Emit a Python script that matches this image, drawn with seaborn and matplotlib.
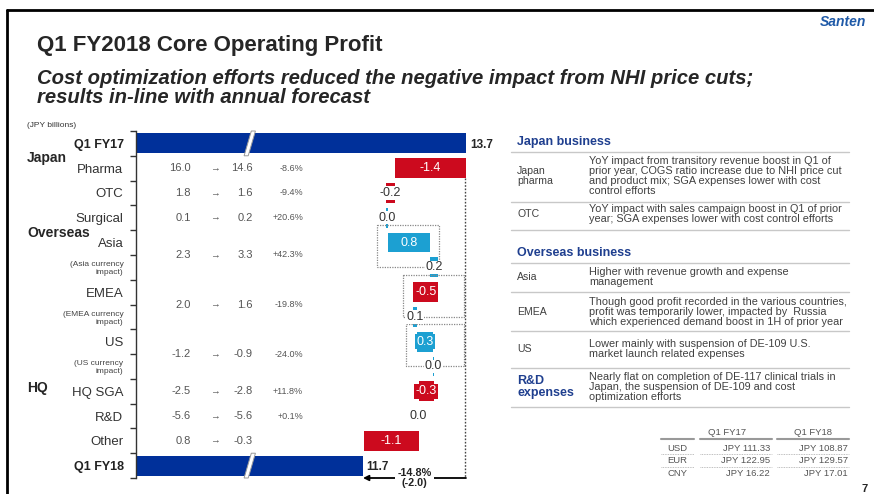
import numpy as np
import matplotlib
matplotlib.use("Agg")
import matplotlib.pyplot as plt
import seaborn as sns
from matplotlib.lines import Line2D
from matplotlib.patches import Polygon, Rectangle
from matplotlib.transforms import Affine2D, blended_transform_factory

# Data
row_labels = ["Q1 FY17", "Pharma", "OTC", "Surgical", "Asia", "(Asia currency\nimpact)",
              "EMEA", "(EMEA currency\nimpact)", "US", "(US currency\nimpact)",
              "HQ SGA", "R&D", "Other", "Q1 FY18"]
fy17_total = 13.7
fy18_total = 11.7
deltas = [-1.38, -0.18, 0.04, 0.82, 0.16, -0.48, 0.06, 0.32, 0.02, -0.30, 0.00, -1.07]
change_text = "-14.8%\n(-2.0)"

seg_rows = [1, 2, 3, 4.5, 6.5, 8.5, 10, 11, 12]
seg_fy17 = [16.0, 1.8, 0.1, 2.3, 2.0, -1.2, -2.5, -5.6, 0.8]
seg_fy18 = [14.6, 1.6, 0.2, 3.3, 1.6, -0.9, -2.8, -5.6, -0.3]
seg_pct = ["-8.6%", "-9.4%", "+20.6%", "+42.3%", "-19.8%", "-24.0%", "+11.8%", "+0.1%", ""]

groups = [("Japan", 158), ("Overseas", 233), ("HQ", 388)]
currency_boxes = [4, 6, 8]  # rows of Asia, EMEA, US (with currency row below)

japan_notes = [("Japan\npharma", "YoY impact from transitory revenue boost in Q1 of\nprior year, COGS ratio increase due to NHI price cut\nand product mix; SGA expenses lower with cost\ncontrol efforts"),
               ("OTC", "YoY impact with sales campaign boost in Q1 of prior\nyear; SGA expenses lower with cost control efforts")]
overseas_notes = [("Asia", "Higher with revenue growth and expense\nmanagement"),
                  ("EMEA", "Though good profit recorded in the various countries,\nprofit was temporarily lower, impacted by  Russia\nwhich experienced demand boost in 1H of prior year"),
                  ("US", "Lower mainly with suspension of DE-109 U.S.\nmarket launch related expenses")]
rd_note = ("R&D\nexpenses", "Nearly flat on completion of DE-117 clinical trials in\nJapan, the suspension of DE-109 and cost\noptimization efforts")

currencies = ["USD", "EUR", "CNY"]
rate_fy17 = [111.33, 122.95, 16.22]
rate_fy18 = [108.87, 129.57, 17.01]

navy = "#00309a"
red = "#cc0a1e"
cyan = "#1ca0d2"
gray = "#555555"
hblue = "#1f3f8f"

sns.set_theme(style="white")
plt.rcParams["font.family"] = ["Liberation Sans", "DejaVu Sans"]

W, H = 874, 494
fig = plt.figure(figsize=(W / 100, H / 100), dpi=100)
px = Affine2D().scale(1 / W, -1 / H).translate(0, 1) + fig.transFigure

# slide frame
fig.add_artist(Line2D([7, 7], [10, 500], transform=px, color="black", lw=2))
fig.add_artist(Line2D([7, 880], [10, 10], transform=px, color="black", lw=2))

fig.text(37, 46, "Q1 FY2018 Core Operating Profit", transform=px, fontsize=16,
         weight="bold", va="center")
fig.text(37, 88, "Cost optimization efforts reduced the negative impact from NHI price cuts;\nresults in-line with annual forecast",
         transform=px, fontsize=14.6, weight="bold", style="italic",
         va="center", linespacing=1.05)
fig.text(820, 22, "Santen", transform=px, fontsize=10, weight="bold", color="#1f5aa8",
         va="center", style="italic")
fig.text(868, 489, "7", transform=px, fontsize=8, weight="bold", ha="right", va="center")
fig.text(27, 125, "(JPY billions)", transform=px, fontsize=6, color="#333333", va="center")

# waterfall axes
ax = fig.add_axes([136 / W, 1 - 478 / H, 331 / W, 347 / H])
total_vals = [fy17_total] + [0] * len(deltas) + [fy18_total]
sns.barplot(x=total_vals, y=row_labels, color=navy, width=0.8, linewidth=0,
            orient="h", errorbar=None, ax=ax, saturation=1)

cum = fy17_total
starts = []
for i, d in enumerate(deltas):
    r = i + 1
    starts.append(cum)
    col = red if d < 0 else cyan
    ax.barh(r, d, left=cum, height=0.8, color=col, linewidth=0)
    mid = cum + d / 2
    if abs(d) >= 0.25:
        ax.text(mid, r, f"{d:.1f}", ha="center", va="center", color="white", fontsize=9,
                bbox=dict(boxstyle="square,pad=0.12", fc=col, ec="none"))
    else:
        ax.text(mid, r, f"{d:.1f}", ha="center", va="center", color="#333333", fontsize=9,
                bbox=dict(boxstyle="square,pad=0.05", fc="white", ec="none"))
    cum += d
ends = [s + d for s, d in zip(starts, deltas)]

# dotted boxes around region + currency impact
for r in currency_boxes:
    i = r - 1
    lo = min(starts[i], ends[i], starts[i + 1], ends[i + 1])
    x0 = lo - 0.2
    x1 = min(lo + 1.0, fy17_total - 0.03)
    ax.add_patch(Rectangle((x0, r - 0.7), x1 - x0, 1.7, fill=False, ec="#888888",
                           ls=(0, (1, 1)), lw=0.9, zorder=1))

ax.set_xlim(7.29, 13.72)
ax.set_ylim(13.5, -0.5)
ax.set_xticks([])
ax.set_xlabel("")
ax.set_ylabel("")
ax.set_yticks(range(len(row_labels)))
ax.set_yticklabels(row_labels)
ax.set_yticks(np.arange(-0.5, len(row_labels), 1), minor=True)
ax.tick_params(axis="y", which="major", length=0, pad=9, colors="#222222")
ax.tick_params(axis="y", which="minor", left=True, length=4, width=1, color="#333333")
for k, lbl in enumerate(ax.get_yticklabels()):
    if k in (0, len(row_labels) - 1):
        lbl.set_fontweight("bold")
        lbl.set_fontsize(9)
    elif "currency" in lbl.get_text():
        lbl.set_fontsize(6)
        lbl.set_color("#444444")
    else:
        lbl.set_fontsize(9.5)
        lbl.set_color("#333333")
sns.despine(ax=ax, top=True, right=True, bottom=True)
ax.spines["left"].set_color("#333333")
ax.spines["left"].set_linewidth(1)
ax.set_facecolor("none")

# totals labels
ax.annotate(f"{fy17_total:.1f}", (fy17_total, 0), xytext=(3, -1), textcoords="offset points",
            fontsize=8.5, weight="bold", va="center", annotation_clip=False)
ax.annotate(f"{fy18_total:.1f}", (fy18_total, 13), xytext=(2, -1), textcoords="offset points",
            fontsize=8.5, weight="bold", va="center", annotation_clip=False)

# axis break marks
for r in (0, len(row_labels) - 1):
    xb = 9.5
    ax.add_patch(Polygon([(xb - 0.11, r + 0.5), (xb - 0.03, r + 0.5), (xb + 0.11, r - 0.5),
                          (xb + 0.03, r - 0.5)], closed=True, fc="white", ec="#999999",
                         lw=0.7, clip_on=False, zorder=5))

# overall change
ax.plot([fy17_total - 0.01] * 2, [1.4, 13.5], ls=(0, (1.2, 1.2)), color="#444444", lw=1,
        clip_on=False)
ax.annotate("", xy=(fy18_total, 13.5), xytext=(fy17_total, 13.5),
            arrowprops=dict(arrowstyle="-|>", color="black", lw=1.3, mutation_scale=8,
                            shrinkA=0, shrinkB=0), annotation_clip=False)
ax.text((fy17_total + fy18_total) / 2, 13.5, change_text, ha="center", va="center",
        fontsize=7.8, weight="bold", color="#222222", linespacing=1.0,
        bbox=dict(boxstyle="square,pad=0.2", fc="white", ec="none"), clip_on=False)

# segment profit columns
bt = blended_transform_factory(px, ax.transData)
for r, a, b, p in zip(seg_rows, seg_fy17, seg_fy18, seg_pct):
    ax.text(191, r, f"{a:.1f}", transform=bt, ha="right", va="center", fontsize=8, color=gray)
    ax.text(215, r, "\u2192", transform=bt, ha="center", va="center", fontsize=7, color=gray)
    ax.text(253, r, f"{b:.1f}", transform=bt, ha="right", va="center", fontsize=8, color=gray)
    if p:
        ax.text(303, r, p, transform=bt, ha="right", va="center", fontsize=6.5, color=gray)

for name, y in groups:
    fig.text(27, y, name, transform=px, fontsize=10, weight="bold", va="center")

# right commentary panel
def hline(y, x0=511, x1=849, color="#c8c8c8", lw=1, ls="-"):
    fig.add_artist(Line2D([x0, x1], [y, y], transform=px, color=color, lw=lw, ls=ls))

def note_row(label, text, y, bold=False):
    if bold:
        fig.text(517, y, label, transform=px, fontsize=9, weight="bold", color=hblue,
                 va="center", linespacing=0.9)
    else:
        fig.text(517, y, label, transform=px, fontsize=7.6, color="#404040", va="center",
                 linespacing=1.0)
    fig.text(589, y, text, transform=px, fontsize=7.8, color="#404040", va="center",
             linespacing=0.98)

fig.text(517, 142, "Japan business", transform=px, fontsize=9, weight="bold", color=hblue,
         va="center")
hline(152)
for (lab, txt), y, yl in zip(japan_notes, [176, 214], [202, 230]):
    note_row(lab, txt, y)
    hline(yl)
fig.text(517, 253, "Overseas business", transform=px, fontsize=9, weight="bold",
         color=hblue, va="center")
hline(263)
for (lab, txt), y, yl in zip(overseas_notes, [277, 312, 349], [292, 331, 368]):
    note_row(lab, txt, y)
    hline(yl)
note_row(rd_note[0], rd_note[1], 387, bold=True)
hline(407)

# currency table
fig.text(727, 432, "Q1 FY17", transform=px, fontsize=6.8, color=gray, ha="center", va="center")
fig.text(813, 432, "Q1 FY18", transform=px, fontsize=6.8, color=gray, ha="center", va="center")
for x0, x1 in [(661, 694), (700, 772), (777, 849)]:
    hline(439, x0, x1, color="#999999", lw=1.5)
for k, (c, a, b) in enumerate(zip(currencies, rate_fy17, rate_fy18)):
    y = 448 + k * 12.5
    fig.text(687, y, c, transform=px, fontsize=6.8, color=gray, ha="right", va="center")
    fig.text(770, y, f"JPY {a:.2f}", transform=px, fontsize=6.8, color=gray, ha="right", va="center")
    fig.text(848, y, f"JPY {b:.2f}", transform=px, fontsize=6.8, color=gray, ha="right", va="center")
    if k < len(currencies) - 1:
        for x0, x1 in [(661, 694), (700, 772), (777, 849)]:
            hline(y + 6.2, x0, x1, color="#aaaaaa", lw=0.6, ls=(0, (1, 1)))

fig.savefig("out.png", dpi=100)
